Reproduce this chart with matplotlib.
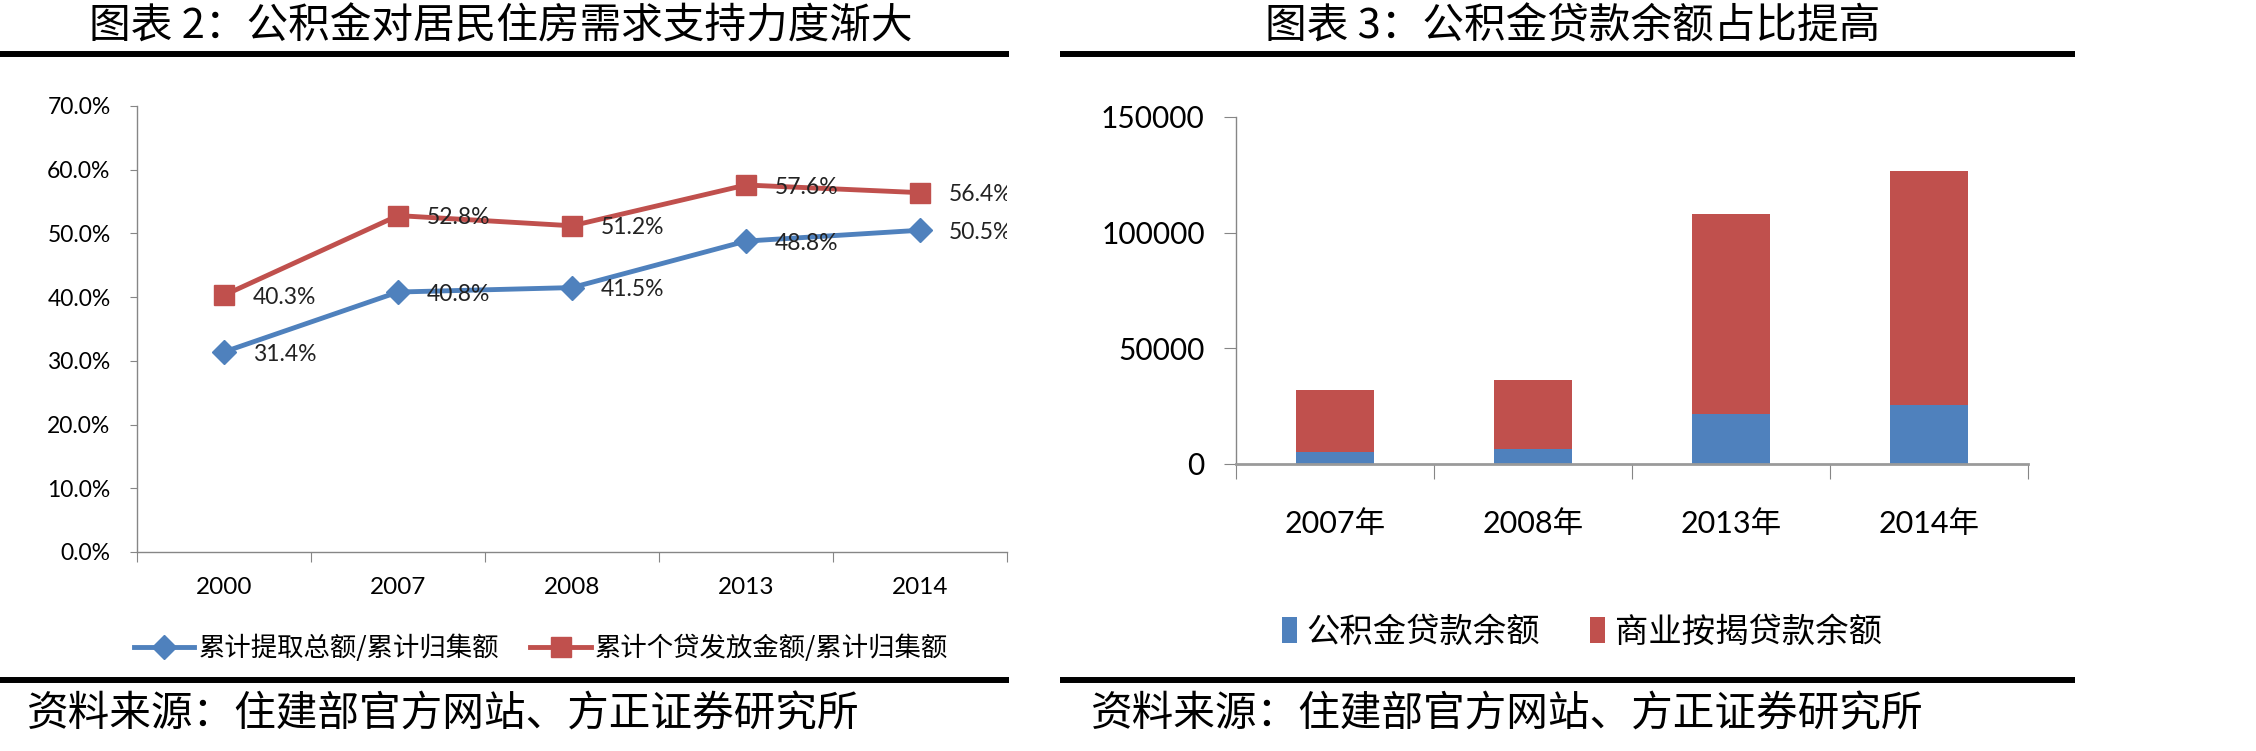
import matplotlib
matplotlib.use('Agg')
import matplotlib.pyplot as plt
from matplotlib.lines import Line2D
from matplotlib.patches import Patch
import numpy as np

plt.rcParams['font.family'] = ['Lato', 'Noto Sans CJK SC', 'DejaVu Sans']

# --- data ---
years_line = ['2000', '2007', '2008', '2013', '2014']
withdraw_ratio = [31.4, 40.8, 41.5, 48.8, 50.5]   # 累计提取总额/累计归集额 (%)
loan_ratio = [40.3, 52.8, 51.2, 57.6, 56.4]       # 累计个贷发放金额/累计归集额 (%)
line_labels = ['累计提取总额/累计归集额', '累计个贷发放金额/累计归集额']

years_bar = ['2007年', '2008年', '2013年', '2014年']
fund_loans = [5300, 6500, 21400, 25500]            # 公积金贷款余额
commercial_loans = [26900, 29800, 86800, 101000]   # 商业按揭贷款余额
bar_labels = ['公积金贷款余额', '商业按揭贷款余额']
bar_yticks = [0, 50000, 100000, 150000]

titles = ['图表 2：公积金对居民住房需求支持力度渐大', '图表 3：公积金贷款余额占比提高']
source = '资料来源：住建部官方网站、方正证券研究所'

BLUE = '#4F81BD'
RED = '#C0504D'
GREY = '#868686'
CJK = ['Noto Sans CJK SC', 'DejaVu Sans']

W, H = 2256, 751
fig = plt.figure(figsize=(W / 100, H / 100), dpi=100)


def px(x0, y0, w, h):
    # pixel box (top-left origin) -> figure fraction rect
    return [x0 / W, 1 - (y0 + h) / H, w / W, h / H]


# ---------------- left: line chart ----------------
ax1 = fig.add_axes(px(137, 106, 870, 446))
x = np.arange(len(years_line))
ax1.plot(x, loan_ratio, color=RED, lw=3.5, marker='s', ms=15, zorder=3)
ax1.plot(x, withdraw_ratio, color=BLUE, lw=3.5, marker='D', ms=12, zorder=3)

for series in (withdraw_ratio, loan_ratio):
    for xi, v in zip(x, series):
        t = ax1.annotate(f'{v:.1f}%', (xi, v), xytext=(21, -1.5),
                         textcoords='offset points', ha='left', va='center',
                         fontsize=16.5, color='#222222', annotation_clip=False)
        t.set_clip_on(True)
        t.set_clip_box(ax1.bbox)

ax1.set_xlim(-0.5, len(years_line) - 0.5)
ax1.set_ylim(0, 70)
ax1.set_yticks(np.arange(0, 71, 10))
ax1.set_yticklabels([f'{v:.1f}%' for v in np.arange(0, 71, 10)])
ax1.set_xticks(np.arange(-0.5, len(years_line), 1))
ax1.set_xticklabels([])
ax1.set_xticks(x, minor=True)
ax1.set_xticklabels(years_line, minor=True)
ax1.tick_params(axis='x', which='major', direction='out', length=7, color=GREY)
ax1.tick_params(axis='x', which='minor', length=0, pad=18, labelsize=17.5)
ax1.tick_params(axis='y', direction='out', length=5, color=GREY, labelsize=16.5, pad=14)
for s in ('top', 'right'):
    ax1.spines[s].set_visible(False)
for s in ('left', 'bottom'):
    ax1.spines[s].set_color(GREY)
    ax1.spines[s].set_linewidth(1)

h_line = [Line2D([], [], color=BLUE, lw=3.5, marker='D', ms=12),
          Line2D([], [], color=RED, lw=3.5, marker='s', ms=15)]
fig.legend(h_line, line_labels, loc='center', bbox_to_anchor=(541 / W, 1 - 648 / H),
           ncol=2, frameon=False, prop={'family': CJK, 'size': 19},
           handlelength=2.3, handletextpad=0.15, columnspacing=1.2)

# ---------------- right: stacked bars ----------------
ax2 = fig.add_axes(px(1236, 117, 792, 347))
xb = np.arange(len(years_bar))
ax2.bar(xb, fund_loans, width=0.39, color=BLUE, zorder=2)
ax2.bar(xb, commercial_loans, width=0.39, bottom=fund_loans, color=RED, zorder=2)

ax2.set_xlim(-0.5, len(years_bar) - 0.5)
ax2.set_ylim(0, 150000)
ax2.set_yticks(bar_yticks)
ax2.set_yticklabels([str(v) for v in bar_yticks])
ax2.set_xticks(np.arange(-0.5, len(years_bar), 1))
ax2.set_xticklabels([])
ax2.set_xticks(xb, minor=True)
ax2.set_xticklabels(years_bar, minor=True)
ax2.tick_params(axis='x', which='major', direction='out', length=11, color=GREY)
ax2.tick_params(axis='x', which='minor', length=0, pad=33, labelsize=22)
ax2.tick_params(axis='y', direction='out', length=8.5, color=GREY, labelsize=21.5, pad=14)
for s in ('top', 'right'):
    ax2.spines[s].set_visible(False)
ax2.spines['left'].set_color(GREY)
ax2.spines['left'].set_linewidth(1)
ax2.spines['bottom'].set_color('#9a9a9a')
ax2.spines['bottom'].set_linewidth(2)

h_bar = [Patch(facecolor=BLUE), Patch(facecolor=RED)]
fig.legend(h_bar, bar_labels, loc='center', bbox_to_anchor=(1582 / W, 1 - 632 / H),
           ncol=2, frameon=False, prop={'family': CJK, 'size': 24},
           handlelength=0.45, handleheight=0.8, handletextpad=0.3, columnspacing=1.5)

# ---------------- titles, rules, sources ----------------
fig.text(501 / W, 1 - 27 / H, titles[0], ha='center', va='center', fontsize=30, family=CJK)
fig.text(1573 / W, 1 - 27 / H, titles[1], ha='center', va='center', fontsize=30, family=CJK)

for x0, x1 in ((0, 1009), (1060, 2075)):
    for yy in (54, 680):
        fig.add_artist(Line2D([x0 / W, x1 / W], [1 - yy / H] * 2, lw=4.3, color='black',
                              solid_capstyle='butt', transform=fig.transFigure))

fig.text(27 / W, 1 - 715 / H, source, ha='left', va='center', fontsize=30,
         style='italic', family=CJK)
fig.text(1091 / W, 1 - 715 / H, source, ha='left', va='center', fontsize=30,
         style='italic', family=CJK)

fig.savefig('out.png', dpi=100)
